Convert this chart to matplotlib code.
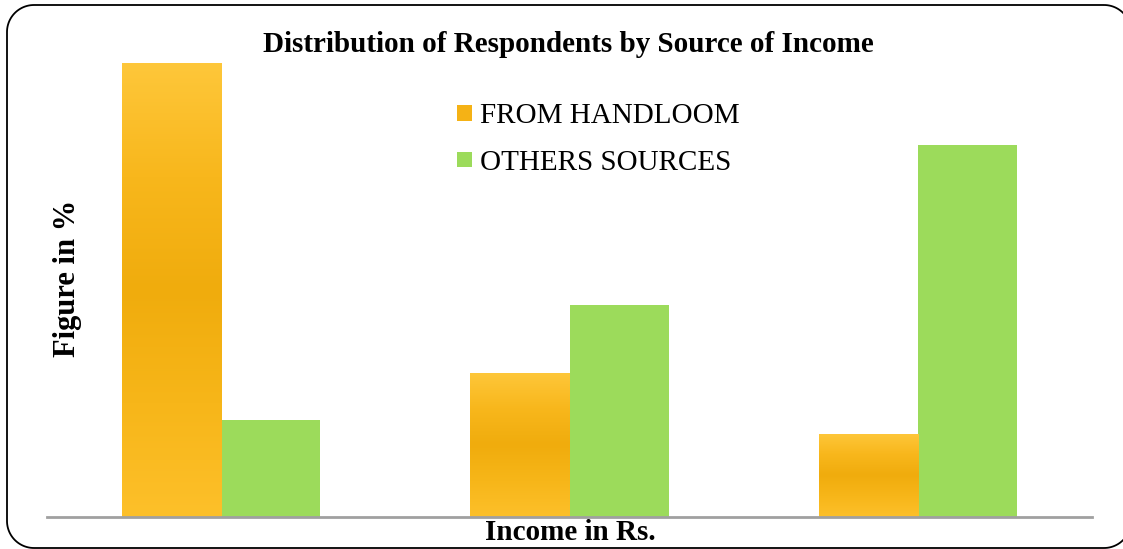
import matplotlib
matplotlib.use("Agg")
import matplotlib.pyplot as plt
import numpy as np
from matplotlib.patches import Rectangle, PathPatch
from matplotlib.path import Path
from matplotlib.colors import LinearSegmentedColormap

# Data
categories = ["Group 1", "Group 2", "Group 3"]
handloom = [82.5, 26.2, 15.1]
others = [17.6, 38.5, 67.6]
series_names = ["FROM HANDLOOM", "OTHERS SOURCES"]

title = "Distribution of Respondents by Source of Income"
xlabel = "Income in Rs."
ylabel = "Figure in %"

serif = ["Liberation Serif", "DejaVu Serif"]
green = "#9CDB5B"
orange_legend = "#F5B215"
orange_cmap = LinearSegmentedColormap.from_list(
    "orange_grad", ["#FDC02A", "#F7B619", "#F0AC0D", "#F8B71C", "#FEC73A"]
)

W, H = 1123, 549
fig = plt.figure(figsize=(W / 100, H / 100), dpi=100)


def rounded_frame(left, top, right, bottom, r, n=24):
    """Closed rounded-rectangle outline in figure fractions (pixel inputs, y down)."""
    pts = []
    corners = [(right - r, top + r, -90, 0), (right - r, bottom - r, 0, 90),
               (left + r, bottom - r, 90, 180), (left + r, top + r, 180, 270)]
    for cx, cy, a0, a1 in corners:
        t = np.radians(np.linspace(a0, a1, n))
        pts.extend(zip(cx + r * np.cos(t), cy + r * np.sin(t)))
    pts.append(pts[0])
    pts = np.array(pts)
    pts[:, 0] /= W
    pts[:, 1] = 1 - pts[:, 1] / H
    return Path(pts)


frame = PathPatch(rounded_frame(7, 5, 1131, 548, 27), transform=fig.transFigure,
                  fill=False, edgecolor="black", linewidth=1.3)
fig.patches.append(frame)

ax_left, ax_right = 47 / W, 1092 / W
ax_bottom, ax_top = (H - 517) / H, (H - 40) / H
ax = fig.add_axes([ax_left, ax_bottom, ax_right - ax_left, ax_top - ax_bottom])

px_per_unit = 5.5
ax.set_ylim(0, (517 - 40) / px_per_unit)
ax.set_xlim(-0.5, len(categories) - 0.5)

x = np.arange(len(categories))
width = 99 / 348
bars_h = ax.bar(x - width / 2, handloom, width, color="#F7B619",
                label=series_names[0], zorder=2)
bars_o = ax.bar(x + width / 2, others, width, color=green,
                label=series_names[1], zorder=2)

# Vertical gradient fill for the handloom bars
grad = np.linspace(0, 1, 256).reshape(-1, 1)
for b in bars_h:
    x0, y0 = b.get_x(), b.get_y()
    w, h = b.get_width(), b.get_height()
    im = ax.imshow(grad, cmap=orange_cmap, aspect="auto", origin="lower",
                   extent=(x0, x0 + w, y0, y0 + h), zorder=3)
    im.set_clip_path(b)

ax.set_xticks([])
ax.set_yticks([])
for s in ["top", "right", "left"]:
    ax.spines[s].set_visible(False)
ax.spines["bottom"].set_color("#A0A0A0")
ax.spines["bottom"].set_linewidth(2)
ax.spines["bottom"].set_zorder(4)

fs = 21
fig.text(568 / W, 1 - 45 / H, title, ha="center", va="center",
         fontsize=fs, fontweight="bold", family=serif)
fig.text(570 / W, 1 - 532 / H, xlabel, ha="center", va="center",
         fontsize=fs, fontweight="bold", family=serif)
fig.text(67 / W, 1 - 278 / H, ylabel, ha="center", va="center",
         rotation=90, fontsize=22, fontweight="bold", family=serif)

# Legend entries
legend_rows = [(series_names[0], orange_legend, 113),
               (series_names[1], green, 160)]
for name, col, yc in legend_rows:
    fig.patches.append(Rectangle((457 / W, 1 - (yc + 7.5) / H), 15 / W, 15 / H,
                                 transform=fig.transFigure,
                                 facecolor=col, edgecolor="none"))
    fig.text(480 / W, 1 - yc / H, name, ha="left", va="center_baseline",
             fontsize=fs, family=serif)

fig.savefig("out.png", dpi=100)
